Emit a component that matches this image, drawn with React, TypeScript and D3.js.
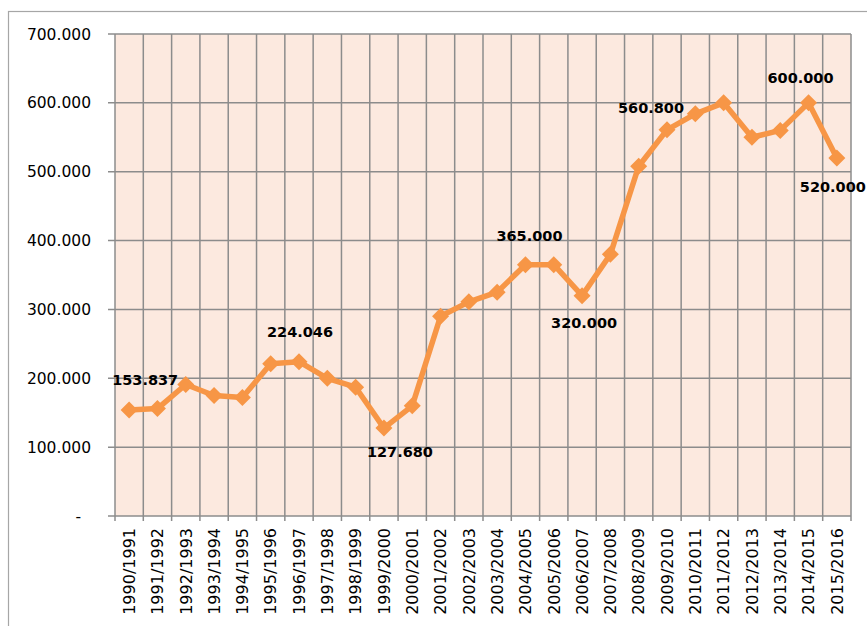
import React from "react";
import * as d3 from "d3";

const seasons: string[] = [
  "1990/1991", "1991/1992", "1992/1993", "1993/1994", "1994/1995",
  "1995/1996", "1996/1997", "1997/1998", "1998/1999", "1999/2000",
  "2000/2001", "2001/2002", "2002/2003", "2003/2004", "2004/2005",
  "2005/2006", "2006/2007", "2007/2008", "2008/2009", "2009/2010",
  "2010/2011", "2011/2012", "2012/2013", "2013/2014", "2014/2015",
  "2015/2016",
];

const production: number[] = [
  153837, 156000, 191000, 175000, 172000,
  221000, 224046, 200000, 187000, 127680,
  160000, 290000, 311000, 325000, 365000,
  365000, 320000, 380000, 508000, 560800,
  584000, 600000, 550000, 560000, 600000,
  520000,
];

const yTicks: number[] = [0, 100000, 200000, 300000, 400000, 500000, 600000, 700000];

// which points get a value label
const labelled: string[] = [
  "1990/1991", "1996/1997", "1999/2000", "2004/2005", "2006/2007",
  "2009/2010", "2014/2015", "2015/2016",
];

// label placement relative to the marker (px)
const labelOffsets: Record<string, [number, number]> = {
  "1990/1991": [16, -30],
  "1996/1997": [1, -30],
  "1999/2000": [16, 24],
  "2004/2005": [4, -29],
  "2006/2007": [2, 27],
  "2009/2010": [-16, -22],
  "2014/2015": [-8, -25],
  "2015/2016": [-4, 29],
};

const W = 867;
const H = 626;
const margin = { top: 34, right: 16, bottom: 110, left: 115 };

const locale = d3.formatLocale({
  decimal: ",",
  thousands: ".",
  grouping: [3],
  currency: ["", ""],
});
const fmt = locale.format(",d");

const App = () => {
  const x = d3
    .scaleBand<string>()
    .domain(seasons)
    .range([margin.left, W - margin.right])
    .padding(0);
  const y = d3
    .scaleLinear()
    .domain([0, 700000])
    .range([H - margin.bottom, margin.top]);

  const bw = x.bandwidth();
  const cx = (s: string) => (x(s) ?? 0) + bw / 2;
  const x0 = margin.left;
  const x1 = W - margin.right;
  const yb = y(0);
  const yt = y(700000);

  const boundaries = seasons.map((s) => x(s) ?? 0).concat([x1]);

  const line = d3
    .line<number>()
    .x((_, i) => cx(seasons[i]))
    .y((d) => y(d));

  const gridColor = "#8c8c8c";
  const orange = "#F79646";
  const tickFont = "'DejaVu Sans', sans-serif";

  return (
    <svg
      width={W}
      height={H}
      style={{ position: "absolute", left: 0, top: 0, background: "#fff" }}
    >
      {/* chart frame */}
      <rect x={8.5} y={11.5} width={1000} height={800} fill="#fff" stroke="#a6a6a6" strokeWidth={1.2} />

      {/* plot area */}
      <rect x={x0} y={yt} width={x1 - x0} height={yb - yt} fill="#FCE9DF" />

      {/* horizontal gridlines */}
      {yTicks.map((t) => (
        <line key={"h" + t} x1={x0 - 7} x2={x1} y1={y(t)} y2={y(t)} stroke={gridColor} strokeWidth={1.5} />
      ))}

      {/* vertical gridlines + ticks */}
      {boundaries.map((bx, i) => (
        <line key={"v" + i} x1={bx} x2={bx} y1={yt} y2={yb + 5} stroke={gridColor} strokeWidth={1.5} />
      ))}

      {/* y labels */}
      {yTicks.map((t) => (
        <text
          key={"yl" + t}
          x={t === 0 ? 81 : 91}
          y={y(t)}
          dy="0.36em"
          textAnchor="end"
          fontFamily={tickFont}
          fontSize={15.5}
          fill="#000"
        >
          {t === 0 ? "-" : fmt(t)}
        </text>
      ))}

      {/* x labels */}
      {seasons.map((s) => (
        <text
          key={"xl" + s}
          transform={`translate(${cx(s)},${yb + 12}) rotate(-90)`}
          dy="0.36em"
          textAnchor="end"
          fontFamily={tickFont}
          fontSize={16}
          fill="#000"
        >
          {s}
        </text>
      ))}

      {/* series */}
      <path d={line(production) ?? ""} fill="none" stroke={orange} strokeWidth={5.5} strokeLinejoin="round" />
      {production.map((v, i) => {
        const px = cx(seasons[i]);
        const py = y(v);
        const r = 8.5;
        return (
          <path
            key={"m" + i}
            d={`M${px},${py - r}L${px + r},${py}L${px},${py + r}L${px - r},${py}Z`}
            fill={orange}
          />
        );
      })}

      {/* value labels */}
      {labelled.map((s) => {
        const i = seasons.indexOf(s);
        const [dx, dy] = labelOffsets[s];
        return (
          <text
            key={"dl" + s}
            x={cx(s) + dx}
            y={y(production[i]) + dy}
            dy="0.36em"
            textAnchor="middle"
            fontFamily="'DejaVu Sans', sans-serif"
            fontWeight="bold"
            fontSize={14.5}
            fill="#000"
          >
            {fmt(production[i])}
          </text>
        );
      })}
    </svg>
  );
};

export default App;
